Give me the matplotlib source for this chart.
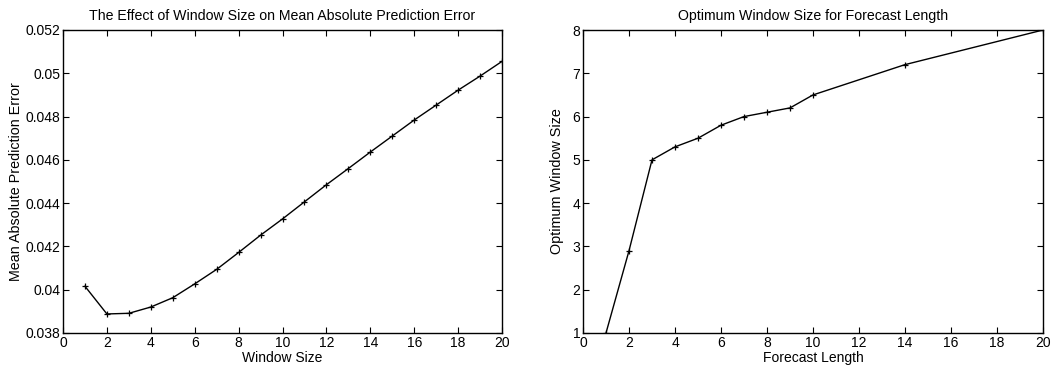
import matplotlib
matplotlib.use("Agg")
import matplotlib.pyplot as plt

plt.rcParams['font.family'] = ['Liberation Sans', 'DejaVu Sans']

window_size = list(range(1, 21))
mape = [0.04016, 0.03888, 0.03891, 0.03920, 0.03963, 0.04027, 0.04094, 0.04172,
        0.04252, 0.04327, 0.04406, 0.04485, 0.04560, 0.04636, 0.04710, 0.04784,
        0.04853, 0.04922, 0.04987, 0.05055]

forecast_length = [1, 2, 3, 4, 5, 6, 7, 8, 9, 10, 14, 20]
optimum_window = [1, 2.9, 5, 5.3, 5.5, 5.8, 6, 6.1, 6.2, 6.5, 7.2, 8]

left_yticks = [0.038, 0.04, 0.042, 0.044, 0.046, 0.048, 0.05, 0.052]
left_yticklabels = ["0.038", "0.04", "0.042", "0.044", "0.046", "0.048", "0.05", "0.052"]
xticks = list(range(0, 21, 2))
right_yticks = [1, 2, 3, 4, 5, 6, 7, 8]

fig = plt.figure(figsize=(10.61, 3.69), dpi=100)
W, H = 1061, 369
ax1 = fig.add_axes([63 / W, 1 - 333 / H, (502 - 63) / W, (333 - 30) / H])
ax2 = fig.add_axes([583 / W, 1 - 333 / H, (1043 - 583) / W, (333 - 30) / H])

def style(ax):
    ax.tick_params(direction='in', top=True, right=True, length=4, width=0.8,
                   labelsize=10, pad=2, color='black')
    for s in ax.spines.values():
        s.set_linewidth(1.0)

ax1.plot(window_size, mape, color='black', lw=1.0, marker='+', ms=5, mew=0.9)
ax1.set_xlim(0, 20)
ax1.set_ylim(0.038, 0.052)
ax1.set_xticks(xticks)
ax1.set_yticks(left_yticks)
ax1.set_yticklabels(left_yticklabels)
ax1.set_xlabel("Window Size", fontsize=10, labelpad=1)
ax1.set_ylabel("Mean Absolute Prediction Error", fontsize=10.3, labelpad=2)
ax1.set_title("The Effect of Window Size on Mean Absolute Prediction Error", fontsize=10.2, pad=7)
style(ax1)

ax2.plot(forecast_length, optimum_window, color='black', lw=1.0, marker='+', ms=5, mew=0.9)
ax2.set_xlim(0, 20)
ax2.set_ylim(1, 8)
ax2.set_xticks(xticks)
ax2.set_yticks(right_yticks)
ax2.set_xlabel("Forecast Length", fontsize=10, labelpad=1)
ax2.set_ylabel("Optimum Window Size", fontsize=10.4, labelpad=6)
ax2.set_title("Optimum Window Size for Forecast Length", fontsize=10.2, pad=7)
style(ax2)

fig.savefig("out.png", dpi=100)
